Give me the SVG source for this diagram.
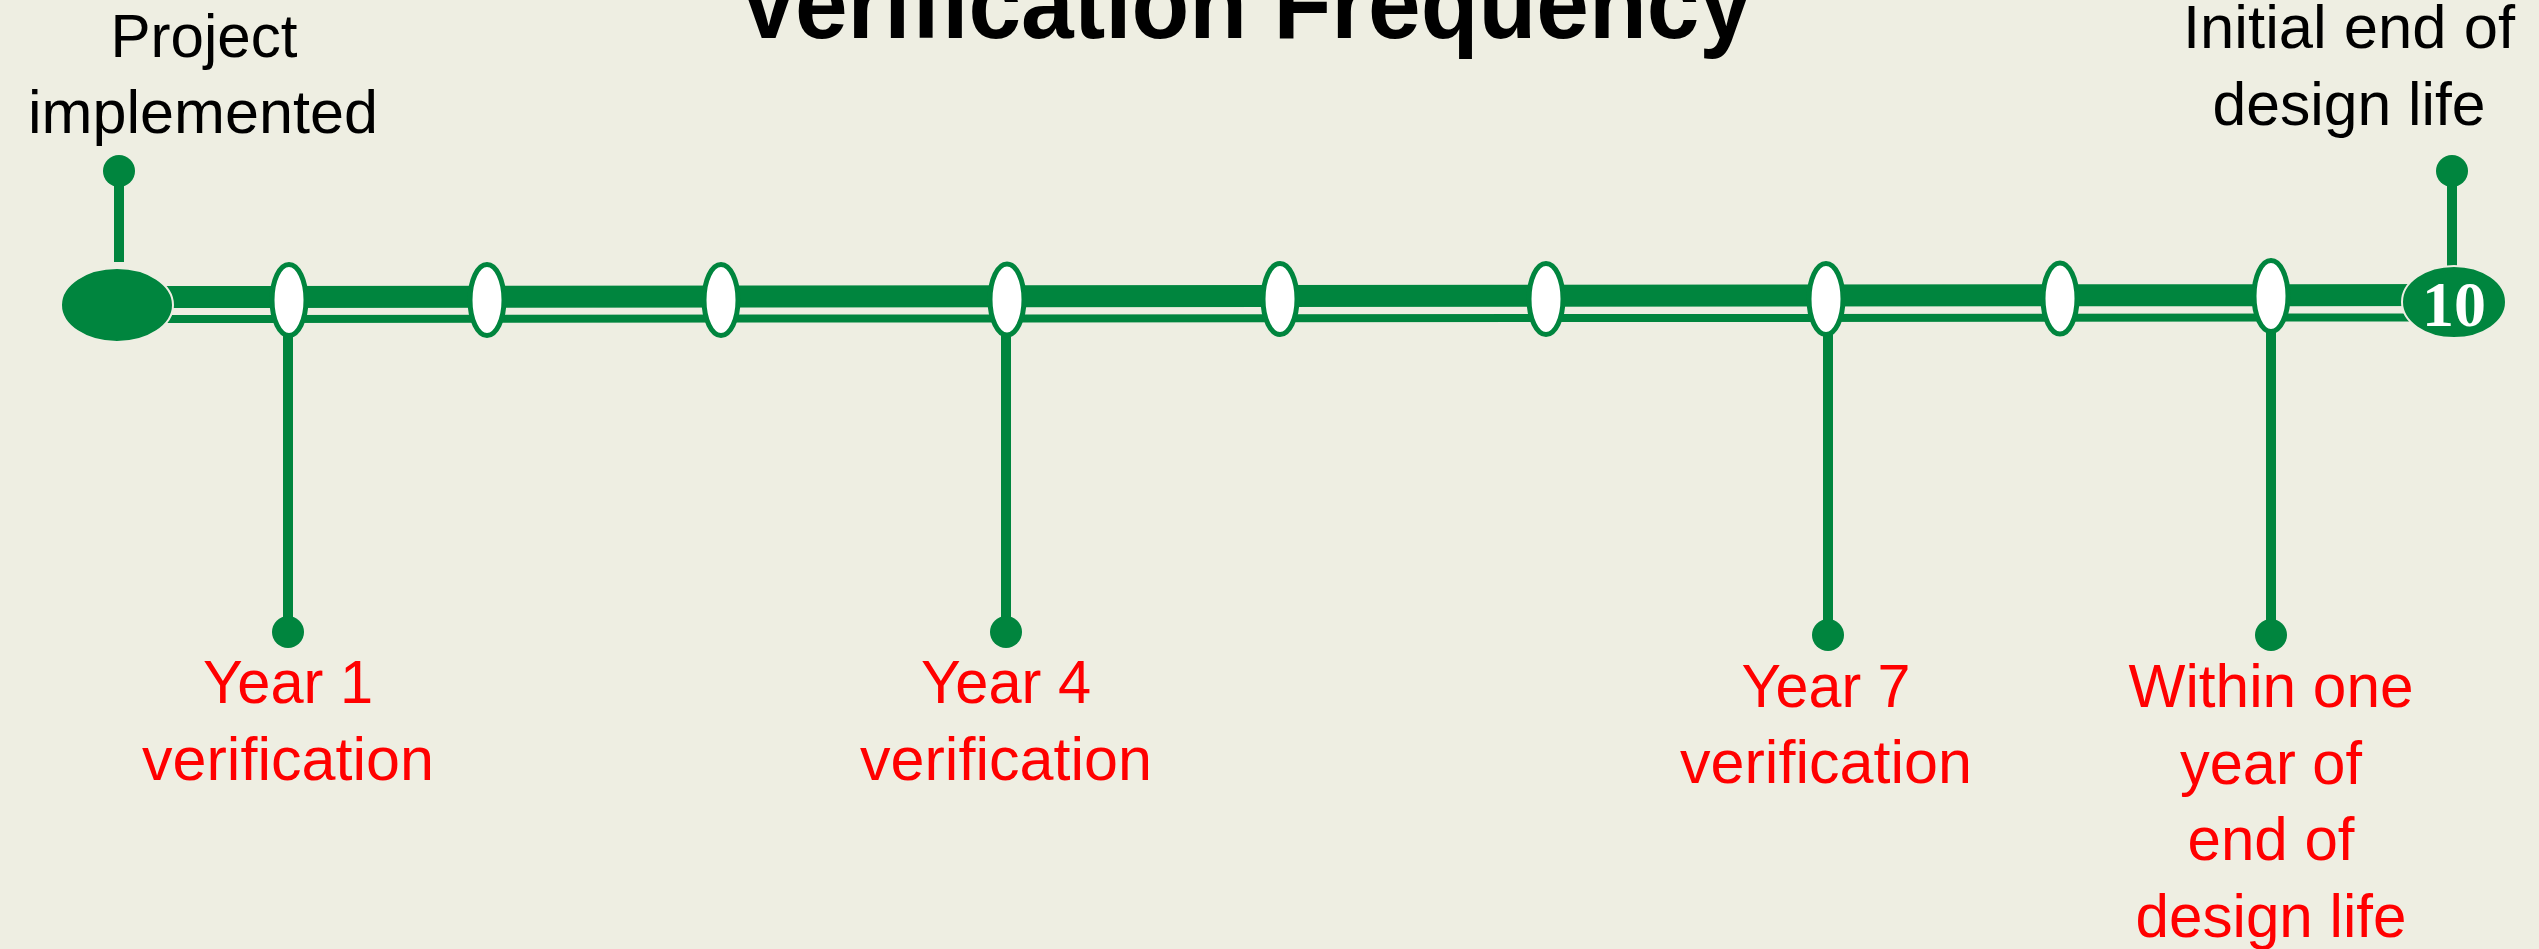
<svg xmlns="http://www.w3.org/2000/svg" width="2539" height="949" viewBox="0 0 2539 949">
<style>
.bg{fill:#EEEEE2}
.thick{stroke:#00853E;stroke-width:22;fill:none}
.thin{stroke:#00853E;stroke-width:8;fill:none}
.stem{stroke:#00853E;stroke-width:10;fill:none}
.dot{fill:#00853E}
.oval{fill:#FFFFFF;stroke:#00853E;stroke-width:5}
.big{fill:#00853E;stroke:#EEEEE2;stroke-width:2}
.title{font-family:"Liberation Sans",Arial,sans-serif;font-weight:bold;font-size:100px;fill:#000}
.blk{font-family:"Liberation Sans",Arial,sans-serif;font-size:61px;fill:#000;text-anchor:middle}
.red{font-family:"Liberation Sans",Arial,sans-serif;font-size:61px;fill:#FF0000;text-anchor:middle}
.num{font-family:"Liberation Serif","Times New Roman",serif;font-weight:bold;font-size:64px;fill:#FFFFFF;text-anchor:middle}
</style>
<rect class="bg" x="0" y="0" width="2539" height="949"/>
<g id="title">
<text class="title" x="737" y="38" textLength="1015" lengthAdjust="spacingAndGlyphs">Verification Frequency</text>
</g>
<g id="connectors">
<line class="thick" x1="117" y1="297" x2="2453" y2="295"/>
<line class="thin" x1="117" y1="319" x2="2453" y2="317.5"/>
<line class="stem" x1="119" y1="171" x2="119" y2="262"/>
<line class="stem" x1="2452" y1="171" x2="2452" y2="268"/>
<line class="stem" x1="288" y1="330" x2="288" y2="632"/>
<line class="stem" x1="1006" y1="330" x2="1006" y2="632"/>
<line class="stem" x1="1828" y1="330" x2="1828" y2="635"/>
<line class="stem" x1="2271" y1="330" x2="2271" y2="635"/>
</g>
<g id="start-node">
<circle class="dot" cx="119" cy="171" r="16"/>
<ellipse class="big" cx="117" cy="305" rx="56" ry="37"/>
<text class="blk" x="204" y="57" textLength="187" lengthAdjust="spacingAndGlyphs">Project</text>
<text class="blk" x="203" y="133" textLength="350" lengthAdjust="spacingAndGlyphs">implemented</text>
</g>
<g id="end-node">
<circle class="dot" cx="2452" cy="171" r="16"/>
<ellipse class="big" cx="2454" cy="302" rx="52" ry="36"/>
<text class="num" x="2454" y="326" textLength="64" lengthAdjust="spacingAndGlyphs">10</text>
<text class="blk" x="2349" y="48" textLength="332" lengthAdjust="spacingAndGlyphs">Initial end of</text>
<text class="blk" x="2349" y="125" textLength="273" lengthAdjust="spacingAndGlyphs">design life</text>
</g>
<g id="year-1">
<ellipse class="oval" cx="289" cy="300" rx="17" ry="35.5"/>
<circle class="dot" cx="288" cy="632" r="16"/>
<text class="red" x="288" y="703" textLength="170" lengthAdjust="spacingAndGlyphs">Year 1</text>
<text class="red" x="288" y="780" textLength="292" lengthAdjust="spacingAndGlyphs">verification</text>
</g>
<g id="year-2"><ellipse class="oval" cx="487" cy="300" rx="17" ry="35.5"/></g>
<g id="year-3"><ellipse class="oval" cx="721" cy="300" rx="17" ry="35.5"/></g>
<g id="year-4">
<ellipse class="oval" cx="1007" cy="299.5" rx="17" ry="35.5"/>
<circle class="dot" cx="1006" cy="632" r="16"/>
<text class="red" x="1006" y="703" textLength="170" lengthAdjust="spacingAndGlyphs">Year 4</text>
<text class="red" x="1006" y="780" textLength="292" lengthAdjust="spacingAndGlyphs">verification</text>
</g>
<g id="year-5"><ellipse class="oval" cx="1280" cy="299" rx="17" ry="35.5"/></g>
<g id="year-6"><ellipse class="oval" cx="1546" cy="299" rx="17" ry="35.5"/></g>
<g id="year-7">
<ellipse class="oval" cx="1826" cy="299" rx="17" ry="35.5"/>
<circle class="dot" cx="1828" cy="635" r="16"/>
<text class="red" x="1826" y="707" textLength="169" lengthAdjust="spacingAndGlyphs">Year 7</text>
<text class="red" x="1826" y="783" textLength="292" lengthAdjust="spacingAndGlyphs">verification</text>
</g>
<g id="year-8"><ellipse class="oval" cx="2060" cy="298.5" rx="17" ry="35.5"/></g>
<g id="year-9">
<ellipse class="oval" cx="2271" cy="296" rx="17" ry="35.5"/>
<circle class="dot" cx="2271" cy="635" r="16"/>
<text class="red" x="2271" y="707" textLength="285" lengthAdjust="spacingAndGlyphs">Within one</text>
<text class="red" x="2271" y="784" textLength="182" lengthAdjust="spacingAndGlyphs">year of</text>
<text class="red" x="2271" y="860" textLength="167" lengthAdjust="spacingAndGlyphs">end of</text>
<text class="red" x="2271" y="937" textLength="271" lengthAdjust="spacingAndGlyphs">design life</text>
</g>
</svg>
